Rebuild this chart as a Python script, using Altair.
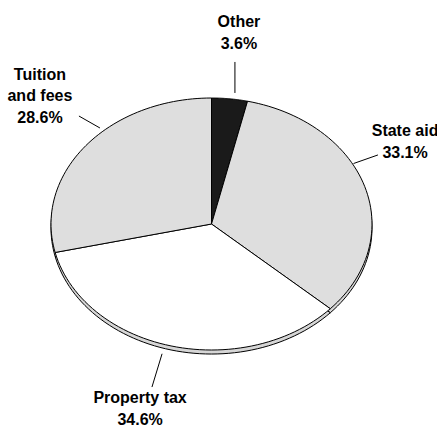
import altair as alt
import pandas as pd

# ---- data ----
categories = ["Other", "State aid", "Property tax", "Tuition and fees"]
values = [3.6, 33.1, 34.6, 28.6]
label_names = ["Other", "State aid", "Property tax", "Tuition\nand fees"]

# ---- styling / layout (not data) ----
slice_colors = ["#1a1a1a", "#dedede", "#ffffff", "#dedede"]
band_color = "#d6d6d6"
depth = 0.032  # thickness of the pie edge, in scale units
# first-line anchor of each label and leader lines, in the pie's own scale units
label_pos = {
    "Other": (0.171, 1.603),
    "State aid": (1.206, 0.738),
    "Property tax": (-0.445, -1.381),
    "Tuition and fees": (-1.069, 1.183),
}
leader = {
    "Other": (0.146, 1.286, 0.146, 1.04),
    "State aid": (1.037, 0.548, 0.885, 0.48),
    "Property tax": (-0.371, -1.294, -0.308, -1.03),
    "Tuition and fees": (-0.826, 0.857, -0.695, 0.762),
}

df = pd.DataFrame({"category": categories, "value": values, "idx": range(len(values))})

lab_df = pd.DataFrame({
    "category": categories,
    "label": [f"{n}\n{v:.1f}%" for n, v in zip(label_names, values)],
    "lx": [label_pos[c][0] for c in categories],
    "ly": [label_pos[c][1] for c in categories],
})
lead_df = pd.DataFrame({
    "category": categories,
    "x0": [leader[c][0] for c in categories],
    "y0": [leader[c][1] for c in categories],
    "x1": [leader[c][2] for c in categories],
    "y1": [leader[c][3] for c in categories],
})

sx = alt.Scale(domain=[-1, 1], nice=False, zero=False)
sy = alt.Scale(domain=[-1, 1], nice=False, zero=False)

N = 60
base = (
    alt.Chart(df)
    .transform_joinaggregate(total="sum(value)")
    .transform_window(cum="sum(value)", sort=[alt.SortField("idx")], frame=[None, 0])
    .transform_calculate(
        t0="(datum.cum - datum.value) / datum.total",
        t1="datum.cum / datum.total",
        k=f"sequence(0, {N + 3})",
    )
    .transform_flatten(["k"])
    .transform_calculate(
        ang=f"2 * PI * (datum.t0 + (datum.t1 - datum.t0) * (datum.k - 1) / {N})",
        px=f"(datum.k == 0 || datum.k == {N + 2}) ? 0 : sin(datum.ang)",
        py=f"(datum.k == 0 || datum.k == {N + 2}) ? 0 : cos(datum.ang)",
        pyb=f"((datum.k == 0 || datum.k == {N + 2}) ? 0 : cos(datum.ang)) - {depth}",
    )
)

band = base.mark_line(stroke="black", strokeWidth=1, fill=band_color, strokeJoin="round").encode(
    x=alt.X("px:Q", scale=sx, axis=None),
    y=alt.Y("pyb:Q", scale=sy, axis=None),
    order=alt.Order("k:Q"),
    detail="category:N",
)

top = base.mark_line(stroke="black", strokeWidth=1, strokeJoin="round").encode(
    x=alt.X("px:Q", scale=sx, axis=None),
    y=alt.Y("py:Q", scale=sy, axis=None),
    order=alt.Order("k:Q"),
    detail="category:N",
    fill=alt.Fill("category:N", scale=alt.Scale(domain=categories, range=slice_colors), legend=None),
)

leaders = alt.Chart(lead_df).mark_rule(color="black", strokeWidth=1).encode(
    x=alt.X("x0:Q", scale=sx, axis=None),
    y=alt.Y("y0:Q", scale=sy, axis=None),
    x2="x1:Q",
    y2="y1:Q",
)

labels = alt.Chart(lab_df).mark_text(
    font="Liberation Sans",
    fontWeight="bold",
    fontSize=16,
    lineBreak="\n",
    lineHeight=21.5,
    align="center",
    baseline="middle",
    color="black",
).encode(
    x=alt.X("lx:Q", scale=sx, axis=None),
    y=alt.Y("ly:Q", scale=sy, axis=None),
    text="label:N",
)

chart = (
    alt.layer(band, top, leaders, labels)
    .properties(
        width=321,
        height=252,
        padding={"left": 51, "top": 98, "right": 65, "bottom": 78},
        autosize=alt.AutoSizeParams(type="none"),
        background="white",
    )
    .configure_view(stroke=None)
)

chart.save("out.html", embed_options={"renderer": "svg", "actions": False})
